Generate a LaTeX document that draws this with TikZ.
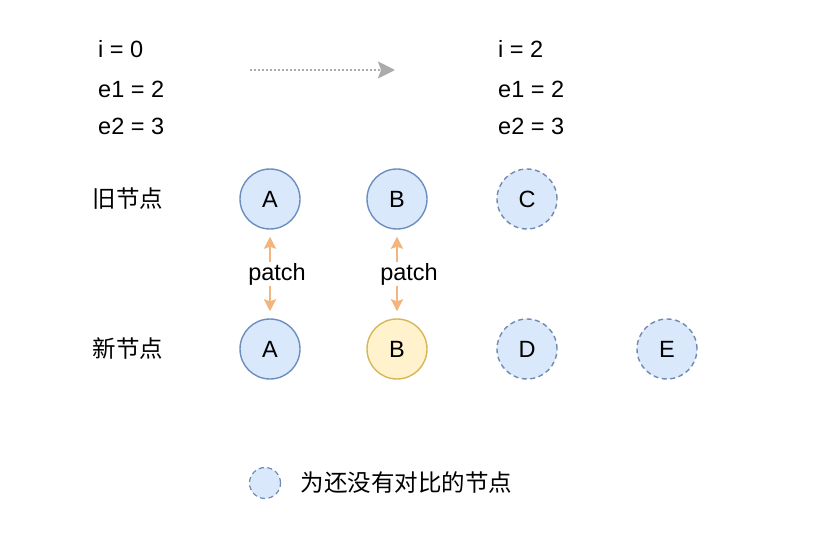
\documentclass[tikz,border=0pt]{standalone}
\usepackage{fontspec}
\setmainfont{Liberation Sans}
\newfontfamily\cjk{Noto Sans CJK SC}
\usepackage{xcolor}
\usetikzlibrary{positioning, arrows.meta}
\definecolor{NodeFill}{HTML}{DAE8FC}
\definecolor{NodeLine}{HTML}{6C8EBF}
\definecolor{NewFill}{HTML}{FFF2CC}
\definecolor{NewLine}{HTML}{D6B656}
\definecolor{Patch}{HTML}{F2B57E}
\definecolor{Hint}{HTML}{ABABAB}

\begin{document}
\begin{tikzpicture}[
      x=1pt, y=-1pt,
      font=\fontsize{23.5}{28}\selectfont,
      vnode/.style={
        circle, draw=NodeLine, line width=1.4pt, fill=NodeFill,
        minimum size=60pt, inner sep=0pt
      },
      vnodeNew/.style={
        vnode, draw=NewLine, fill=NewFill
      },
      vnodeTodo/.style={
        vnode, draw=NodeLine!75!gray, dashed, dash pattern=on 5pt off 3.5pt
      },
      varlabel/.style={anchor=west, inner sep=0pt},
      rowlabel/.style={font=\cjk\fontsize{23.5}{28}\selectfont},
      patchline/.style={
        draw=Patch, line width=2.8pt, {Stealth[length=12pt,width=12pt,inset=2pt]}-{Stealth[length=12pt,width=12pt,inset=2pt]}
      }
    ]
      \useasboundingbox (0,0) rectangle (838,540);

      % counters
      \node[varlabel] (iL)  at (98,49)  {i = 0};
      \node[varlabel] (e1L) at (98,89)  {e1 = 2};
      \node[varlabel] (e2L) at (98,126) {e2 = 3};
      \node[varlabel] (iR)  at (498,49)  {i = 2};
      \node[varlabel] (e1R) at (498,89)  {e1 = 2};
      \node[varlabel] (e2R) at (498,126) {e2 = 3};
      \coordinate (stepFrom) at (250,70);
      \coordinate (stepTo)   at (395,70);
      \draw[Hint, line width=2pt, dotted, -{Stealth[length=17pt,width=17pt,inset=3pt]}] (stepFrom) -- (stepTo);

      % rows
      \node[rowlabel] (oldRow) at (128,199) {旧节点};
      \node[rowlabel] (newRow) at (128,349) {新节点};

      \node[vnode]                              (oldA) at (270,199) {A};
      \node[vnode,     right=65.6pt of oldA]    (oldB) {B};
      \node[vnodeTodo, right=68.6pt of oldB]    (oldC) {C};

      \node[vnode]                              (newA) at (270,349) {A};
      \node[vnodeNew,  right=65.6pt of newA]    (newB) {B};
      \node[vnodeTodo, right=68.6pt of newB]    (newD) {D};
      \node[vnodeTodo, right=78.6pt of newD]    (newE) {E};

      \draw[patchline] ([yshift=-7pt]oldA.south) -- node[fill=white, inner sep=1pt, xshift=7pt] {patch} ([yshift=7pt]newA.north);
      \draw[patchline] ([yshift=-7pt]oldB.south) -- node[fill=white, inner sep=1pt, xshift=12pt] {patch} ([yshift=7pt]newB.north);

      % legend
      \node[vnodeTodo, minimum size=31pt, line width=1.2pt] (legend) at (265,483) {};
      \node[rowlabel, right=16pt of legend] (legendText) {为还没有对比的节点};
    \end{tikzpicture}
\end{document}
